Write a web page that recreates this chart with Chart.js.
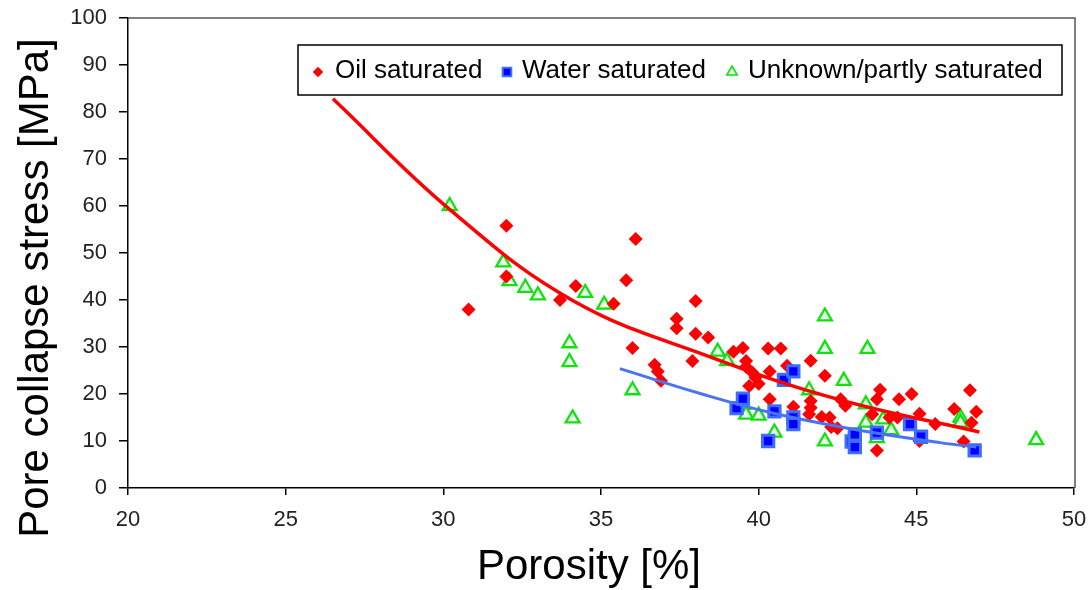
<!DOCTYPE html>
<html>
<head>
<meta charset="utf-8">
<script src="https://cdn.jsdelivr.net/npm/chart.js@4/dist/chart.umd.min.js"></script>
<style>
  html, body { margin: 0; padding: 0; background: #fff; }
  #wrap { width: 1089px; height: 590px; }
</style>
</head>
<body>
<div id="wrap"><canvas id="scatterChart"></canvas></div>
<script>
// DATA ########################################################################

var oilX = [30.8, 32.0, 32.0, 33.7, 34.2, 35.4, 35.8, 36.1, 36.0, 36.7, 36.8, 36.9,
            37.4, 37.4, 38.0, 38.0, 38.4, 37.9, 39.2, 39.5, 40.3, 40.7, 39.6, 39.6,
            39.8, 39.9, 39.7, 40.0, 40.35, 40.9, 40.35, 41.1, 41.65, 42.1, 43.85, 43.75,
            44.45, 44.85, 42.6, 42.75, 41.65, 41.65, 41.6, 42.0, 42.25, 42.3, 42.5, 43.6,
            44.15, 44.4, 45.1, 45.6, 43.75, 45.1, 46.7, 46.2, 46.9, 46.75, 46.5];
var oilY = [38, 55.8, 45, 40, 43, 39.2, 44.2, 53, 29.8, 26.2, 24.8, 22.8,
            36, 34, 39.8, 32.8, 32, 27, 29, 29.8, 29.7, 29.7, 27, 25.8,
            24.6, 23.5, 21.7, 22.2, 24.8, 26, 18.9, 17.3, 27.1, 23.9, 20.9, 18.9,
            18.9, 20, 18.9, 17.5, 18.5, 17.1, 15.7, 15.1, 15, 13, 12.7, 15.7,
            15, 15, 15.8, 13.6, 8, 10, 20.8, 16.8, 16.2, 13.9, 9.9];

var waterX = [39.3, 39.5, 40.3, 40.5, 40.8, 41.1, 41.1, 41.1, 42.95, 43.05, 43.05,
              43.75, 44.8, 45.15, 46.85];
var waterY = [17, 19, 10, 16.3, 23, 24.8, 15, 13.6, 9.9, 8.7, 11.4,
              11.8, 13.6, 10.9, 8];

var otherX = [30.2, 31.9, 32.1, 32.6, 33.0, 34.5, 35.1, 34.0, 34.0, 34.1, 36.0,
              38.7, 39.0, 39.5, 39.6, 40.0, 40.5, 42.1, 42.1, 43.45, 42.7, 41.6,
              43.4, 43.95, 43.4, 44.2, 43.75, 42.1, 46.4, 46.4, 48.8];
var otherY = [60, 48, 44, 42.6, 41, 41.5, 39, 30.8, 26.8, 14.8, 20.8,
              29, 27, 17.7, 15.6, 15.4, 11.8, 36.5, 29.6, 29.6, 22.8, 20.8,
              17.8, 14.6, 13.9, 12.3, 10.6, 9.9, 15, 13.9, 10.2];

// trend lines
var oilFitX = [26.5, 30.2, 34.1, 38.5, 42.5, 47.0];
var oilFitY = [82.8, 59.3, 39.9, 27.8, 18.9, 11.9];
var waterFitX = [35.6, 38.2, 40.4, 43.0, 45.8, 46.9];
var waterFitY = [25.4, 20.0, 16.0, 12.5, 9.6, 8.7];

var legendLabels = ["Oil saturated", "Water saturated", "Unknown/partly saturated"];
var xTitle = "Porosity [%]";
var yTitle = "Pore collapse stress [MPa]";

function toPoints(xs, ys) {
    var pts = [];
    for (var i = 0; i < xs.length; i++) {
        pts.push({x: xs[i], y: ys[i]});
    }
    return pts;
}

// STYLES ######################################################################

var oilStyle = {pointStyle: 'rectRot', radius: 7, borderWidth: 0,
                fill: "#ff0000", stroke: "#ff0000"};
var waterStyle = {pointStyle: 'rect', radius: 8, borderWidth: 3,
                  fill: "#0000ff", stroke: "#3f6cff"};
var otherStyle = {pointStyle: 'triangle', radius: 8, borderWidth: 2.3,
                  fill: "#eaffea", stroke: "#11e011"};

// PLUGINS #####################################################################

var frameAndText = {
    id: 'frameAndText',
    beforeDatasetsDraw: function (chart) {
        var ctx = chart.ctx;
        var a = chart.chartArea;
        ctx.save();
        ctx.strokeStyle = "#555";
        ctx.lineWidth = 1.5;
        ctx.beginPath();
        ctx.moveTo(a.left, a.top);
        ctx.lineTo(a.right + 1, a.top);
        ctx.lineTo(a.right + 1, a.bottom);
        ctx.stroke();
        ctx.restore();
    },
    afterDraw: function (chart) {
        var ctx = chart.ctx;
        ctx.save();

        // axis titles
        ctx.fillStyle = "#000";
        ctx.font = "42px 'Liberation Sans', Arial, sans-serif";
        ctx.textAlign = "center";
        ctx.textBaseline = "middle";
        ctx.fillText(xTitle, 589, 567);
        ctx.translate(36, 288);
        ctx.rotate(-Math.PI / 2);
        ctx.fillText(yTitle, 0, 0);
        ctx.setTransform(1, 0, 0, 1, 0, 0);

        // legend box drawn over the trend line
        ctx.fillStyle = "#fff";
        ctx.fillRect(298, 45, 764, 50);
        ctx.strokeStyle = "#000";
        ctx.lineWidth = 1.5;
        ctx.strokeRect(298, 45, 764, 50);

        var styles = [oilStyle, waterStyle, otherStyle];
        var markX = [318, 507, 732];
        var textX = [335, 522, 748];
        ctx.font = "26px 'Liberation Sans', Arial, sans-serif";
        ctx.textAlign = "left";
        for (var i = 0; i < legendLabels.length; i++) {
            var s = styles[i];
            ctx.fillStyle = s.fill;
            ctx.strokeStyle = s.stroke;
            ctx.lineWidth = s.borderWidth * 0.7;
            Chart.helpers.drawPoint(ctx, {
                pointStyle: s.pointStyle,
                radius: s.radius * 0.75,
                rotation: 0,
                borderWidth: s.borderWidth * 0.7
            }, markX[i], 72);
            ctx.fillStyle = "#000";
            ctx.fillText(legendLabels[i], textX[i], 71);
        }
        ctx.restore();
    }
};

// CHART #######################################################################

var ctx_scatter = document.getElementById("scatterChart");

var tickFont = {family: "'Liberation Sans', Arial, sans-serif", size: 22};

var data = {
    datasets: [
        {
            type: 'line',
            label: "oil fit",
            data: toPoints(oilFitX, oilFitY),
            borderColor: "#ff0000",
            borderWidth: 3.5,
            pointRadius: 0,
            fill: false,
            tension: 0.4,
            order: 0
        },
        {
            type: 'line',
            label: "water fit",
            data: toPoints(waterFitX, waterFitY),
            borderColor: "#4a73f2",
            borderWidth: 3,
            pointRadius: 0,
            fill: false,
            tension: 0.4,
            order: 0
        },
        {
            label: legendLabels[0],
            data: toPoints(oilX, oilY),
            pointStyle: oilStyle.pointStyle,
            pointRadius: oilStyle.radius,
            pointBackgroundColor: oilStyle.fill,
            pointBorderColor: oilStyle.stroke,
            pointBorderWidth: oilStyle.borderWidth,
            order: 2
        },
        {
            label: legendLabels[1],
            data: toPoints(waterX, waterY),
            pointStyle: waterStyle.pointStyle,
            pointRadius: waterStyle.radius,
            pointBackgroundColor: waterStyle.fill,
            pointBorderColor: waterStyle.stroke,
            pointBorderWidth: waterStyle.borderWidth,
            order: 1
        },
        {
            label: legendLabels[2],
            data: toPoints(otherX, otherY),
            pointStyle: otherStyle.pointStyle,
            pointRadius: otherStyle.radius,
            pointBackgroundColor: otherStyle.fill,
            pointBorderColor: otherStyle.stroke,
            pointBorderWidth: otherStyle.borderWidth,
            order: 3
        }
    ]
};

var myScatterChart = new Chart(ctx_scatter, {
    type: 'scatter',
    data: data,
    plugins: [frameAndText],
    options: {
        responsive: true,
        maintainAspectRatio: false,
        animation: false,
        layout: {padding: {left: 0, top: 18, right: 15, bottom: 0}},
        plugins: {
            legend: {display: false},
            tooltip: {enabled: false}
        },
        scales: {
            x: {
                type: 'linear',
                min: 20,
                max: 50,
                afterFit: function (scale) {
                    scale.height = 102;
                    scale.paddingLeft = 0;
                    scale.paddingRight = 0;
                },
                ticks: {stepSize: 5, color: "#222", font: tickFont, padding: 12},
                grid: {drawOnChartArea: false, drawTicks: true, tickLength: 7,
                       color: "#000", lineWidth: 1.5},
                border: {color: "#000", width: 1.5}
            },
            y: {
                min: 0,
                max: 100,
                afterFit: function (scale) {
                    scale.width = 128;
                    scale.paddingTop = 0;
                    scale.paddingBottom = 0;
                },
                ticks: {stepSize: 10, color: "#222", font: tickFont, padding: 12},
                grid: {drawOnChartArea: false, drawTicks: true, tickLength: 9,
                       color: "#000", lineWidth: 1.5},
                border: {color: "#000", width: 1.5}
            }
        }
    }
});
</script>
</body>
</html>
